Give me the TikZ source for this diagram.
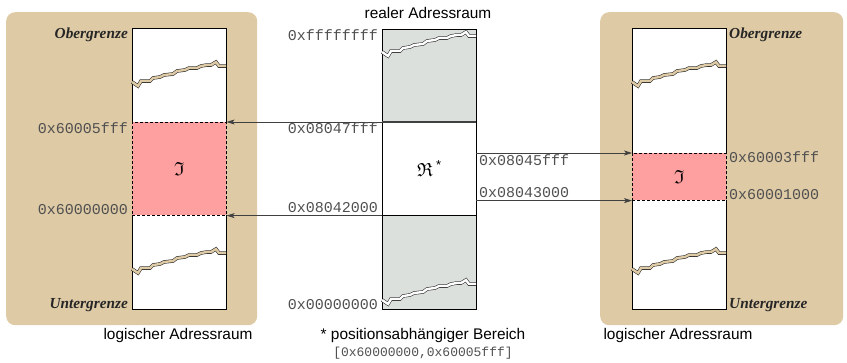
\documentclass[tikz,border=0pt]{standalone}
\usepackage{amssymb}
\usepackage{fontspec}
\setmainfont{Liberation Sans}
\setmonofont{Liberation Mono}
\newfontfamily\grenzfont{Liberation Serif}
\usetikzlibrary{arrows.meta}
\definecolor{panelc}{HTML}{DECAA5}
\definecolor{redc}{HTML}{FFA0A0}
\definecolor{grayc}{HTML}{DCE0DC}
\definecolor{arrc}{HTML}{404040}
\definecolor{monoc}{HTML}{505050}
\tikzset{
  panel/.style={fill=panelc, rounded corners=9pt, anchor=north west, inner sep=0pt, minimum width=251pt, minimum height=313pt},
  colbox/.style={anchor=north west, inner sep=0pt, minimum width=94pt, font=\fontsize{19}{22}\selectfont},
  whitepart/.style={colbox, fill=white},
  redpart/.style={colbox, fill=redc, draw=black, line width=0.6pt, dash pattern=on 3pt off 2pt},
  graypart/.style={colbox, fill=grayc},
  jagst/.style={draw=black!85, line width=0.55pt, double distance=2.4pt, line join=miter},
  arr/.style={draw=arrc, line width=0.7pt, -{Stealth[length=8pt,width=5pt,inset=2pt]}},
  mono/.style={inner sep=0pt, text=monoc, font=\fontsize{15}{18}\ttfamily},
  monosmall/.style={inner sep=0pt, text=monoc, font=\fontsize{13}{16}\ttfamily},
  grenz/.style={inner sep=0pt, text=black!85, font=\fontsize{15.3}{18}\grenzfont\bfseries\itshape},
  caption/.style={inner sep=0pt, font=\fontsize{15.4}{18}\selectfont},
  boxline/.style={draw=black, line width=0.8pt},
}
\newcommand\jag[3]{\draw[jagst,double=#3,shift={(#1,#2)}] (0,0) -- (6,4) -- (9,-1) -- (18,-1) -- (21,-4) -- (28,-5) -- (32,-7) -- (41,-8) -- (45,-11) -- (53,-12) -- (57,-14) -- (65,-14) -- (69,-16) -- (75,-17) -- (79,-17) -- (84,-20) -- (87,-16) -- (94,-16);}
\begin{document}
\begin{tikzpicture}[x=1pt,y=-1pt]
\useasboundingbox (0,0) rectangle (847,362);
% panels
\node[panel] (Lpanel) at (6,12) {};
\node[panel, minimum width=243pt] (Rpanel) at (600,12) {};
% left column
\node[whitepart, minimum height=94pt] (Ltop) at (132,28) {};
\node[redpart, minimum height=93pt] (Lred) at (132,122) {$\mathfrak{I}$};
\node[whitepart, minimum height=94pt] (Lbot) at (132,215) {};
\draw[boxline] (Ltop.south west) -- (Ltop.north west) -- (Ltop.north east) -- (Ltop.south east);
\draw[boxline] (Lbot.north west) -- (Lbot.south west) -- (Lbot.south east) -- (Lbot.north east);
\node[redpart, minimum height=93pt, fill=none] at (132,122) {};
\jag{132}{82}{panelc}
\jag{132}{269}{panelc}
% middle column
\node[graypart, minimum height=93pt] (Mtop) at (382,29) {};
\node[colbox, fill=white, minimum height=93pt] (Mmid) at (382,122) {$\mathfrak{R}$\,\raisebox{7pt}{\fontsize{13}{14}\selectfont *}};
\node[graypart, minimum height=94pt] (Mbot) at (382,215) {};
\draw[boxline] (Mtop.north west) rectangle (Mbot.south east);
\draw[boxline, draw=black!75, line width=1.2pt] (Mmid.north west) -- (Mmid.north east);
\draw[boxline] (Mmid.south west) -- (Mmid.south east);
\jag{382}{52}{white}
\jag{382}{300}{white}
% right column
\node[whitepart, minimum height=125pt] (Rtop) at (632,28) {};
\node[redpart, minimum height=47pt] (Rred) at (632,153) {$\mathfrak{I}$};
\node[whitepart, minimum height=109pt] (Rbot) at (632,200) {};
\draw[boxline] (Rtop.south west) -- (Rtop.north west) -- (Rtop.north east) -- (Rtop.south east);
\draw[boxline] (Rbot.north west) -- (Rbot.south west) -- (Rbot.south east) -- (Rbot.north east);
\node[redpart, minimum height=47pt, fill=none] at (632,153) {};
\jag{632}{82}{panelc}
\jag{632}{269}{panelc}
% arrows
\draw[arr] (Mmid.north west) -- (Lred.north east);
\draw[arr] (Mmid.south west) -- (Lred.south east);
\draw[arr] (Mmid.east |- Rred.north) -- (Rred.north west);
\draw[arr] (Mmid.east |- Rred.south) -- (Rred.south west);
% left labels
\node[grenz, anchor=base east] (lob) at (128,38) {Obergrenze};
\node[mono, anchor=base east] (l1) at (128,133) {0x60005fff};
\node[mono, anchor=base east] (l2) at (128,214) {0x60000000};
\node[grenz, anchor=base east] (lun) at (128,308) {Untergrenze};
% middle labels
\node[caption, anchor=base] (title) at (428,18) {realer Adressraum};
\node[mono, anchor=base east] (m0) at (378,40) {0xffffffff};
\node[mono, anchor=base east] (m1) at (378,133) {0x08047fff};
\node[mono, anchor=base east] (m2) at (378,212) {0x08042000};
\node[mono, anchor=base east] (m3) at (378,309) {0x00000000};
\node[mono, anchor=base west] (m4) at (479,165) {0x08045fff};
\node[mono, anchor=base west] (m5) at (479,197) {0x08043000};
% right labels
\node[grenz, anchor=base west] (rob) at (729,38) {Obergrenze};
\node[mono, anchor=base west] (r1) at (729,162) {0x60003fff};
\node[mono, anchor=base west] (r2) at (729,199) {0x60001000};
\node[grenz, anchor=base west] (run) at (729,308) {Untergrenze};
% captions
\node[caption, anchor=base] (capL) at (178,339) {logischer Adressraum};
\node[caption, anchor=base] (capR) at (678,339) {logischer Adressraum};
\node[caption, anchor=base] (capM) at (423,339) {* positionsabhängiger Bereich};
\node[monosmall, anchor=base] (capM2) at (423,356) {[0x60000000,0x60005fff]};
\end{tikzpicture}
\end{document}
